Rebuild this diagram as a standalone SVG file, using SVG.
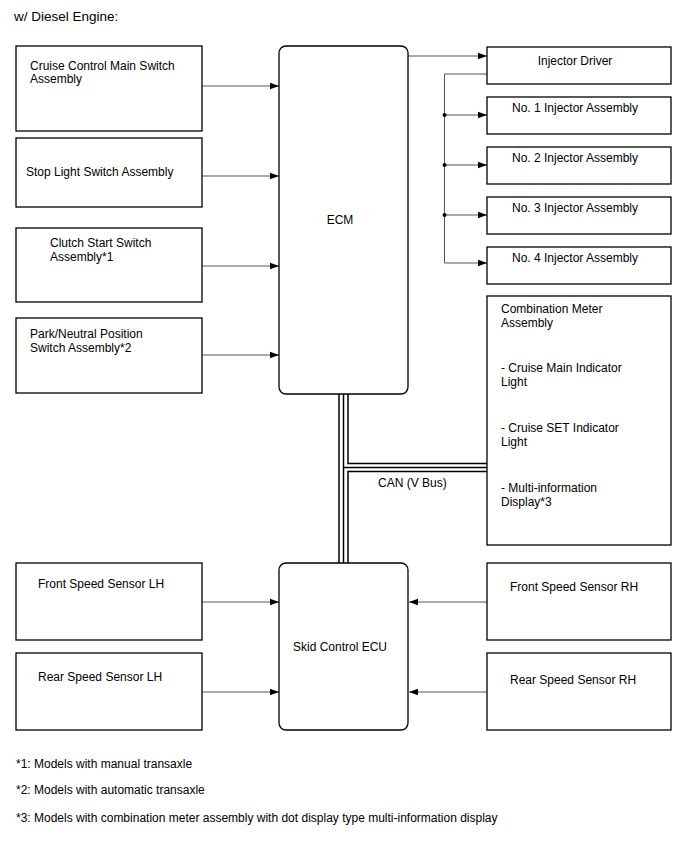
<svg xmlns="http://www.w3.org/2000/svg" width="688" height="852" viewBox="0 0 688 852">
<defs>
<marker id="ah" markerWidth="10" markerHeight="8" refX="9" refY="4" orient="auto" markerUnits="userSpaceOnUse">
<path d="M0,0.8 L9,4 L0,7.2 Z" fill="#000"/>
</marker>
</defs>
<style>
text{font-family:"Liberation Sans",Arial,sans-serif;font-size:12px;fill:#000}
.box{fill:#fff;stroke:#000;stroke-width:1.3}
.ecu{fill:#fff;stroke:#000;stroke-width:1.3}
.c{fill:none;stroke:#555;stroke-width:1}
.a{fill:none;stroke:#555;stroke-width:1;marker-end:url(#ah)}
.bus{fill:none;stroke:#000;stroke-width:1.5}
.title{font-size:13.5px}
.m{text-anchor:middle}
</style>
<rect width="688" height="852" fill="#fff"/>
<text class="title" x="14" y="21">w/ Diesel Engine:</text>

<g id="connectors">
<line class="a" x1="202" y1="86" x2="279" y2="86"/>
<line class="a" x1="202" y1="176" x2="279" y2="176"/>
<line class="a" x1="202" y1="266" x2="279" y2="266"/>
<line class="a" x1="202" y1="355" x2="279" y2="355"/>
<polyline class="a" points="408,56 487,56"/>
<polyline class="c" points="487,74 444.5,74 444.5,263"/>
<line class="a" x1="444.5" y1="115" x2="487" y2="115"/>
<line class="a" x1="444.5" y1="165" x2="487" y2="165"/>
<line class="a" x1="444.5" y1="215" x2="487" y2="215"/>
<line class="a" x1="444.5" y1="263" x2="487" y2="263"/>
<circle cx="444.5" cy="115" r="2" fill="#000"/>
<circle cx="444.5" cy="165" r="2" fill="#000"/>
<circle cx="444.5" cy="215" r="2" fill="#000"/>
<line class="a" x1="202" y1="602" x2="279" y2="602"/>
<line class="a" x1="202" y1="692" x2="279" y2="692"/>
<line class="a" x1="487" y1="602" x2="409" y2="602"/>
<line class="a" x1="487" y1="692" x2="409" y2="692"/>
<g id="can-bus">
<line class="bus" x1="339" y1="394" x2="339" y2="563"/>
<line class="bus" x1="343.5" y1="394" x2="343.5" y2="563"/>
<polyline class="bus" points="348,394 348,463.5 487,463.5"/>
<line class="bus" x1="343.5" y1="467.5" x2="487" y2="467.5"/>
<polyline class="bus" points="487,471.5 348,471.5 348,563"/>
</g>
<text x="378" y="487">CAN (V Bus)</text>
</g>

<g id="cruise-main-switch">
<rect class="box" x="16" y="46" width="186" height="85"/>
<text x="30" y="70">Cruise Control Main Switch</text>
<text x="30" y="83">Assembly</text>
</g>
<g id="stop-light-switch">
<rect class="box" x="16" y="138" width="186" height="69"/>
<text x="26" y="176">Stop Light Switch Assembly</text>
</g>
<g id="clutch-start-switch">
<rect class="box" x="16" y="228" width="186" height="74"/>
<text x="50" y="247">Clutch Start Switch</text>
<text x="50" y="261">Assembly*1</text>
</g>
<g id="park-neutral-switch">
<rect class="box" x="16" y="318" width="186" height="75"/>
<text x="30" y="338">Park/Neutral Position</text>
<text x="30" y="352">Switch Assembly*2</text>
</g>
<g id="ecm">
<rect class="ecu" x="279" y="46" width="129" height="348" rx="7"/>
<text class="m" x="340" y="224">ECM</text>
</g>
<g id="injector-driver">
<rect class="box" x="487" y="47" width="184" height="37"/>
<text class="m" x="575" y="65">Injector Driver</text>
</g>
<g id="injector-1">
<rect class="box" x="487" y="97" width="184" height="37"/>
<text class="m" x="575" y="112">No. 1 Injector Assembly</text>
</g>
<g id="injector-2">
<rect class="box" x="487" y="147" width="184" height="37"/>
<text class="m" x="575" y="162">No. 2 Injector Assembly</text>
</g>
<g id="injector-3">
<rect class="box" x="487" y="197" width="184" height="37"/>
<text class="m" x="575" y="212">No. 3 Injector Assembly</text>
</g>
<g id="injector-4">
<rect class="box" x="487" y="247" width="184" height="37"/>
<text class="m" x="575" y="262">No. 4 Injector Assembly</text>
</g>
<g id="combination-meter">
<rect class="box" x="487" y="296" width="184" height="249"/>
<text x="501" y="313">Combination Meter</text>
<text x="501" y="327">Assembly</text>
<text x="501" y="372">- Cruise Main Indicator</text>
<text x="501" y="386">Light</text>
<text x="501" y="432">- Cruise SET Indicator</text>
<text x="501" y="446">Light</text>
<text x="501" y="492">- Multi-information</text>
<text x="501" y="506">Display*3</text>
</g>
<g id="front-speed-lh">
<rect class="box" x="16" y="563" width="186" height="77"/>
<text x="38" y="588">Front Speed Sensor LH</text>
</g>
<g id="rear-speed-lh">
<rect class="box" x="16" y="653" width="186" height="77"/>
<text x="38" y="681">Rear Speed Sensor LH</text>
</g>
<g id="skid-control-ecu">
<rect class="ecu" x="279" y="563" width="129" height="167" rx="7"/>
<text class="m" x="340" y="651">Skid Control ECU</text>
</g>
<g id="front-speed-rh">
<rect class="box" x="487" y="563" width="184" height="77"/>
<text x="510" y="591">Front Speed Sensor RH</text>
</g>
<g id="rear-speed-rh">
<rect class="box" x="487" y="653" width="184" height="77"/>
<text x="510" y="684">Rear Speed Sensor RH</text>
</g>

<text x="16" y="768">*1: Models with manual transaxle</text>
<text x="16" y="794">*2: Models with automatic transaxle</text>
<text x="16" y="822">*3: Models with combination meter assembly with dot display type multi-information display</text>
</svg>
